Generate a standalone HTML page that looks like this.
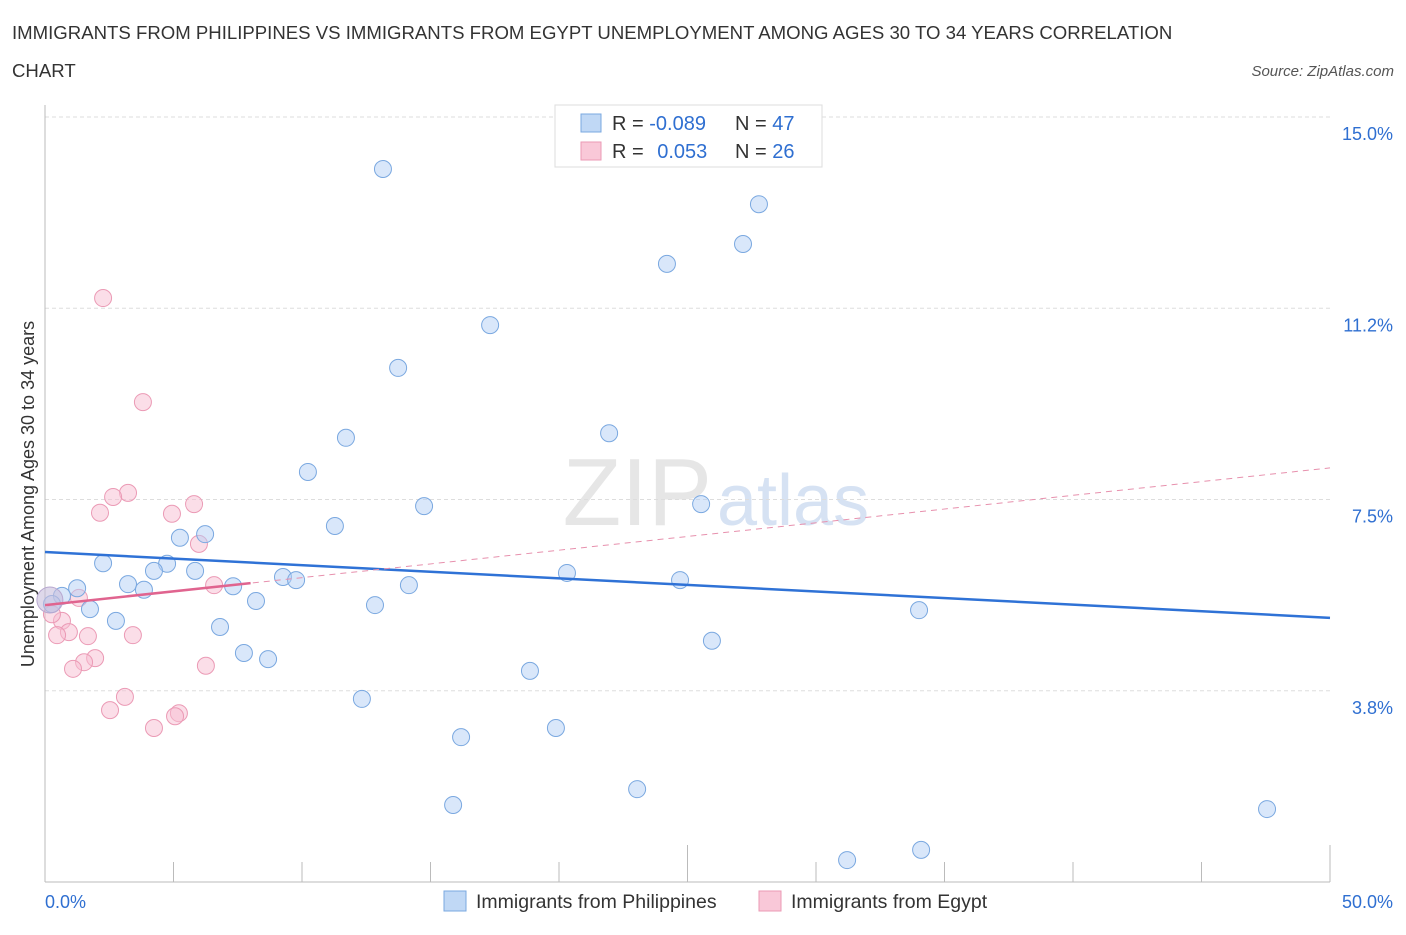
<!DOCTYPE html>
<html><head><meta charset="utf-8"><style>
body{margin:0;background:#fff;font-family:"Liberation Sans",sans-serif;}
svg text{font-family:"Liberation Sans",sans-serif;}
</style></head><body>
<svg id="c" width="1406" height="930" viewBox="0 0 1406 930" xmlns="http://www.w3.org/2000/svg">
<text x="12" y="39" font-size="18.6" fill="#333">IMMIGRANTS FROM PHILIPPINES VS IMMIGRANTS FROM EGYPT UNEMPLOYMENT AMONG AGES 30 TO 34 YEARS CORRELATION</text>
<text x="12" y="77" font-size="18.6" fill="#333">CHART</text>
<text x="1394" y="76" font-size="15" fill="#555" font-style="italic" text-anchor="end">Source: ZipAtlas.com</text>
<text x="712" y="525" font-size="96" fill="#e6e6e6" text-anchor="end" font-family="Liberation Serif">ZIP</text>
<text x="717" y="525" font-size="72" fill="#d6e2f3">atlas</text>
<g id="grid"></g>
<g id="axes"></g>
<g id="marks"></g>
<text transform="translate(34,494) rotate(-90)" font-size="18" fill="#333" text-anchor="middle">Unemployment Among Ages 30 to 34 years</text>
<g>
<rect x="555" y="105" width="267" height="62" fill="#fff" stroke="#ddd"/>
<rect x="581" y="114" width="20" height="18" fill="#c0d8f5" stroke="#7aa8e0"/>
<rect x="581" y="142" width="20" height="18" fill="#f9c8d8" stroke="#eb9ab5"/>
<text x="612" y="130" font-size="20" fill="#333">R = <tspan fill="#2f6fd1">-0.089</tspan></text>
<text x="735" y="130" font-size="20" fill="#333">N = <tspan fill="#2f6fd1">47</tspan></text>
<text x="612" y="158" font-size="20" fill="#333">R = <tspan fill="#2f6fd1" dx="8">0.053</tspan></text>
<text x="735" y="158" font-size="20" fill="#333">N = <tspan fill="#2f6fd1">26</tspan></text>
</g>
<g>
<rect x="444" y="891" width="22" height="20" fill="#c0d8f5" stroke="#7aa8e0"/>
<text x="476" y="908" font-size="19.5" fill="#333">Immigrants from Philippines</text>
<rect x="759" y="891" width="22" height="20" fill="#f9c8d8" stroke="#eb9ab5"/>
<text x="791" y="908" font-size="19.5" fill="#333">Immigrants from Egypt</text>
</g>
</svg>
<script>
const yTicks=[3.75,7.5,11.25,15];
const yTickLabels=["3.8%","7.5%","11.2%","15.0%"];
const xTicks=[0,5,10,15,20,25,30,35,40,45,50];
const blueX=[13.15,27.78,27.16,24.20,17.32,13.74,11.71,21.95,10.23,14.75,25.53,11.28,6.23,5.25,2.26,4.75,4.24,5.84,20.31,3.23,1.25,3.85,7.32,9.26,9.77,14.16,24.71,0.66,0.27,1.75,8.21,12.84,34.01,2.76,6.81,25.95,7.74,8.68,18.87,12.33,19.88,16.19,23.04,15.88,47.55,34.09,31.21];
const blueY=[13.98,13.29,12.51,12.12,10.92,10.08,8.71,8.80,8.04,7.37,7.41,6.98,6.82,6.75,6.25,6.24,6.10,6.10,6.06,5.84,5.76,5.73,5.80,5.98,5.92,5.82,5.92,5.61,5.45,5.35,5.51,5.43,5.33,5.12,5.00,4.73,4.49,4.37,4.14,3.59,3.02,2.84,1.82,1.51,1.43,0.63,0.43];
const pinkX=[2.26,3.81,3.23,2.65,5.80,2.14,4.94,5.99,6.58,1.32,0.66,0.93,0.47,1.67,3.42,1.95,1.52,1.09,6.26,3.11,2.53,5.21,5.06,4.24,0.27];
const pinkY=[11.45,9.41,7.63,7.55,7.41,7.24,7.22,6.63,5.82,5.57,5.12,4.90,4.84,4.82,4.84,4.39,4.31,4.18,4.24,3.63,3.37,3.31,3.25,3.02,5.25];
const blueTrend=[6.47,5.18];
const pinkTrend=[5.43,8.12];
const NS="http://www.w3.org/2000/svg";
const X=v=>45+v*25.7, Y=v=>882-v*51;
function mk(p,t,a){const e=document.createElementNS(NS,t);for(const k in a)e.setAttribute(k,a[k]);p.appendChild(e);return e;}
const grid=document.getElementById('grid'),axes=document.getElementById('axes'),marks=document.getElementById('marks');
yTicks.forEach((t,i)=>{
 const l=mk(grid,'line',{x1:45,x2:1330,y1:Y(t),y2:Y(t),stroke:'#ddd','stroke-dasharray':'4,3'});
 
 
 const tx=mk(axes,'text',{x:1393,y:Y(t)+23,'font-size':18,fill:'#2f6fd1','text-anchor':'end'});
 tx.textContent=yTickLabels[i];
 
 
});
mk(axes,'line',{x1:45,x2:45,y1:105,y2:882,stroke:'#bbb'});
mk(axes,'line',{x1:45,x2:1330,y1:882,y2:882,stroke:'#bbb'});
xTicks.forEach(t=>{
 const big=(t===25||t===50);
 const tk=mk(axes,'line',{x1:X(t),x2:X(t),y1:big?845:862,y2:882,stroke:'#bbb'});
 
 
});
const xl0=mk(axes,'text',{x:45,y:908,'font-size':18,fill:'#2f6fd1'});xl0.textContent='0.0%';


const xl1=mk(axes,'text',{x:1393,y:908,'font-size':18,fill:'#2f6fd1','text-anchor':'end'});xl1.textContent='50.0%';


pinkX.forEach((x,i)=>{
 const c=mk(marks,'circle',{cx:X(x),cy:Y(pinkY[i]),r:8.5,fill:'rgba(248,190,210,0.5)',stroke:'#eb9ab5','stroke-width':1});
 
 
});
blueX.forEach((x,i)=>{
 const c=mk(marks,'circle',{cx:X(x),cy:Y(blueY[i]),r:8.5,fill:'rgba(180,208,245,0.5)',stroke:'#7aa8e0','stroke-width':1});
 
 
});
const big=mk(marks,'circle',{cx:X(0.19),cy:Y(5.53),r:13,fill:'rgba(200,190,220,0.6)',stroke:'#b8a8d0'});


const bt=mk(marks,'line',{x1:X(0),y1:Y(blueTrend[0]),x2:X(50),y2:Y(blueTrend[1]),stroke:'#2f72d6','stroke-width':2.5});


const pd=mk(marks,'line',{x1:X(0),y1:Y(pinkTrend[0]),x2:X(50),y2:Y(pinkTrend[1]),stroke:'#e790ad','stroke-width':1,'stroke-dasharray':'6,5'});


const xe=8;
const ps=mk(marks,'line',{x1:X(0),y1:Y(pinkTrend[0]),x2:X(xe),y2:Y(pinkTrend[0]+(pinkTrend[1]-pinkTrend[0])*xe/50),stroke:'#e0648f','stroke-width':2.5});


</script>
</body></html>
